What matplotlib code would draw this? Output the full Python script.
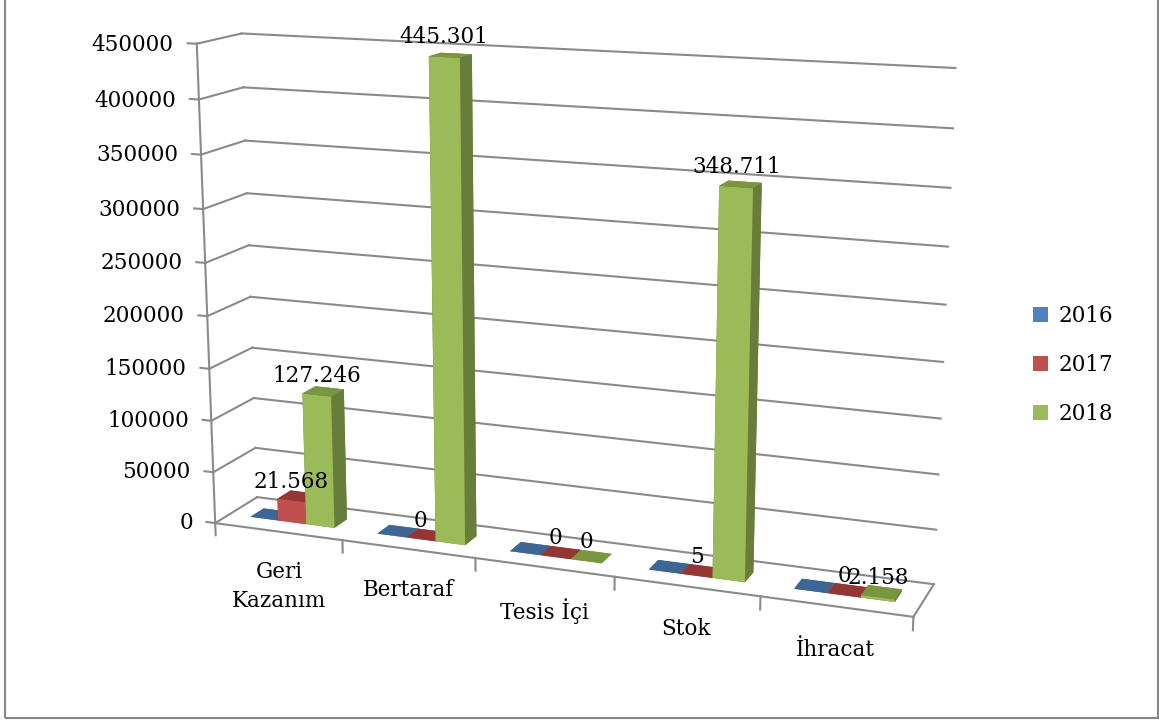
import numpy as np
import matplotlib
matplotlib.use("Agg")
import matplotlib.pyplot as plt
from matplotlib.lines import Line2D
from matplotlib.patches import Patch, Rectangle
from mpl_toolkits.mplot3d import proj3d

categories = ["Geri\nKazanım", "Bertaraf", "Tesis İçi", "Stok", "İhracat"]
years = ["2016", "2017", "2018"]
values_2016 = [0, 0, 0, 0, 0]
values_2017 = [21568, 0, 0, 5, 0]
values_2018 = [127246, 445301, 0, 348711, 2158]
z_ticks = [0, 50000, 100000, 150000, 200000, 250000, 300000, 350000, 400000, 450000]

series = [values_2016, values_2017, values_2018]
show_labels = [False, True, True]
front_colors = ["#4F81BD", "#C0504D", "#9BBB59"]
top_colors = ["#3E6694", "#943634", "#7A9641"]
side_colors = ["#385D8A", "#8C3836", "#687D3A"]
grid_color = "#8A8A8A"

plt.rcParams["font.family"] = ["DejaVu Serif"]
FS = 15.5


def fmt(v):
    return f"{v:,}".replace(",", ".")


fig = plt.figure(figsize=(11.59, 7.25), dpi=100)
fig.patches.append(Rectangle((5 / 1159, 7 / 725), 1153 / 1159, 1.0, transform=fig.transFigure,
                             fill=False, edgecolor="#868686", linewidth=1.5))

ax = fig.add_axes([0.0754, 0.058, 0.80, 1.0], projection="3d")
ax.set_proj_type("persp", focal_length=0.577)
ax.view_init(elev=13.8, azim=-69)
n = len(categories)
depth = 2.5
zmax = z_ticks[-1]
ax.set_xlim(0, n)
ax.set_ylim(0, depth)
ax.set_zlim(0, zmax)
ax.set_box_aspect((744, 92, 505), zoom=1.226)
ax.set_axis_off()

# bars: three series side by side in each category, sitting mid-depth
bw = 2 / 9
y0, dy = 0.85, 0.8
xs, ys, zs, dxs, dys, dzs, cols = [], [], [], [], [], [], []
for j, vals in enumerate(series):
    for i, v in enumerate(vals):
        xs.append(i + 1 / 6 + j * bw)
        ys.append(y0)
        zs.append(0)
        dxs.append(bw)
        dys.append(dy)
        dzs.append(v)
        cols += [top_colors[j], top_colors[j], front_colors[j],
                 side_colors[j], side_colors[j], side_colors[j]]
bars = ax.bar3d(xs, ys, zs, dxs, dys, dzs, color=cols, shade=False, linewidth=0)
bars.set_clip_on(False)

# walls, floor and ticks as 3D segments
segments = []
for t in z_ticks:
    segments.append(([0, n], [depth, depth], [t, t]))     # back wall
    segments.append(([0, 0], [0, depth], [t, t]))        # left wall
    segments.append(([-0.07, 0], [0, 0], [t, t]))        # tick
segments.append(([0, 0], [0, 0], [0, zmax]))              # value axis
segments.append(([0, n], [0, 0], [0, 0]))                 # floor front edge
segments.append(([n, n], [0, depth], [0, 0]))             # floor right edge
for i in range(n + 1):
    segments.append(([i, i], [0, 0], [0, -12000]))

texts = []
for t in z_ticks:
    texts.append((-0.18, 0, t, str(t), dict(ha="right", va="center_baseline")))
for j, vals in enumerate(series):
    if not show_labels[j]:
        continue
    for i, v in enumerate(vals):
        texts.append((i + 1 / 6 + j * bw + bw / 2, y0, v + 7500, fmt(v),
                      dict(ha="center", va="bottom")))
for i, c in enumerate(categories):
    texts.append((i + 0.5, 0, -29000, c, dict(ha="center", va="top", linespacing=1.4)))

# project through the axes' camera and draw as flat artists
fig.canvas.draw()
M = ax.get_proj()
for sx, sy, sz in segments:
    px, py, _ = proj3d.proj_transform(np.array(sx, float), np.array(sy, float),
                                      np.array(sz, float), M)
    ax.add_line(Line2D(px, py, color=grid_color, lw=1.5, zorder=1,
                       transform=ax.transData, clip_on=False))
for x, y, z, s, kw in texts:
    px, py, _ = proj3d.proj_transform(x, y, z, M)
    ax.text2D(px, py, s, transform=ax.transData, fontsize=FS, **kw)

handles = [Patch(facecolor=front_colors[j], label=years[j]) for j in range(3)]
fig.legend(handles=handles, loc="center left", bbox_to_anchor=(1014 / 1159, 1 - 365 / 725),
           frameon=False, fontsize=FS, handlelength=0.7, handleheight=0.7,
           handletextpad=0.45, labelspacing=1.25)

fig.savefig("out.png", dpi=100)
